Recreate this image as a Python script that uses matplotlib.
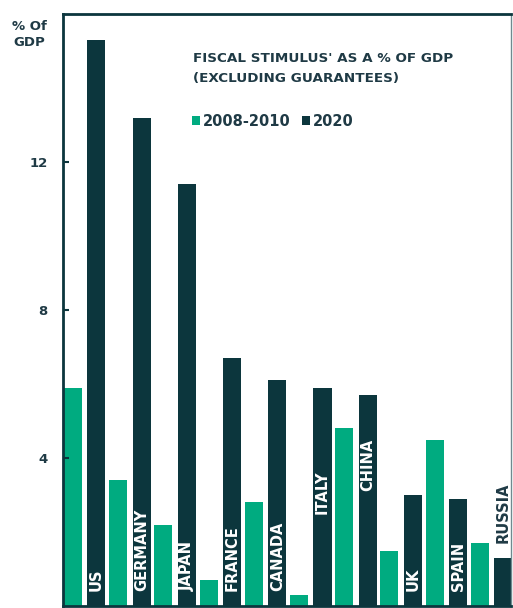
import numpy as np
import matplotlib
matplotlib.use("Agg")
import matplotlib.pyplot as plt

countries = ["US", "GERMANY", "JAPAN", "FRANCE", "CANADA",
             "ITALY", "CHINA", "UK", "SPAIN", "RUSSIA"]
gfc_2008_2010 = [5.9, 3.4, 2.2, 0.7, 2.8, 0.3, 4.8, 1.5, 4.5, 1.7]
covid_2020 = [15.3, 13.2, 11.4, 6.7, 6.1, 5.9, 5.7, 3.0, 2.9, 1.3]
yticks = [4, 8, 12]

GREEN = "#00ab80"
DARK = "#0c363d"
INK = "#1f3a45"

plt.rcParams["font.family"] = ["DejaVu Sans"]
plt.rcParams["font.weight"] = "bold"

W, H = 513, 608
fig = plt.figure(figsize=(W / 100, H / 100), dpi=100)
ax = fig.add_axes([63 / W, 2 / H, (511 - 63) / W, (606 - 14) / H])

x = np.arange(len(countries))
off, bw = 0.26, 0.4
ax.bar(x - off, gfc_2008_2010, bw, color=GREEN, label="2008-2010")
ax.bar(x + off, covid_2020, bw, color=DARK, label="2020")

# country names sit inside the 2020 bar; a few are lifted or placed above
label_base = {"ITALY": 2.5, "CHINA": 3.1}
for i, (name, v) in enumerate(zip(countries, covid_2020)):
    if name == "RUSSIA":
        ax.text(i + off, v + 0.4, name, rotation=90, ha="center", va="bottom",
                color=INK, fontsize=10.5, fontweight="bold")
    else:
        ax.text(i + off, label_base.get(name, 0.4), name, rotation=90,
                ha="center", va="bottom", color="white", fontsize=10.5,
                fontweight="bold")

ax.set_xlim(-0.48, 9.43)
ax.set_ylim(0, 16)
ax.set_xticks([])
ax.set_yticks(yticks)
ax.set_yticklabels([str(t) for t in yticks])
ax.tick_params(axis="y", direction="in", length=4, width=1.5, color=DARK,
               pad=11, labelsize=9.5, labelcolor=INK)

for s in ("left", "top", "bottom"):
    ax.spines[s].set_color(DARK)
    ax.spines[s].set_linewidth(2)
ax.spines["right"].set_color("#6f8a8f")
ax.spines["right"].set_linewidth(1)

fig.text(29 / W, 1 - 20 / H, "% Of\nGDP", ha="center", va="top",
         color=INK, fontsize=9.5, fontweight="bold", linespacing=1.35)

ax.text(193 / W, 1 - 52 / H, "FISCAL STIMULUS' AS A % OF GDP\n(EXCLUDING GUARANTEES)",
        transform=fig.transFigure, ha="left", va="top", color=INK,
        fontsize=9.7, fontweight="bold", linespacing=1.7)

leg = ax.legend(loc="upper left", bbox_to_anchor=(192 / W, 1 - 114 / H),
                bbox_transform=fig.transFigure, ncol=2, frameon=False,
                handlelength=0.55, handleheight=0.55, handletextpad=0.2,
                columnspacing=0.8, fontsize=10.5, borderpad=0, borderaxespad=0)
for t in leg.get_texts():
    t.set_color(INK)
    t.set_fontweight("bold")

fig.savefig("out.png", dpi=100)
